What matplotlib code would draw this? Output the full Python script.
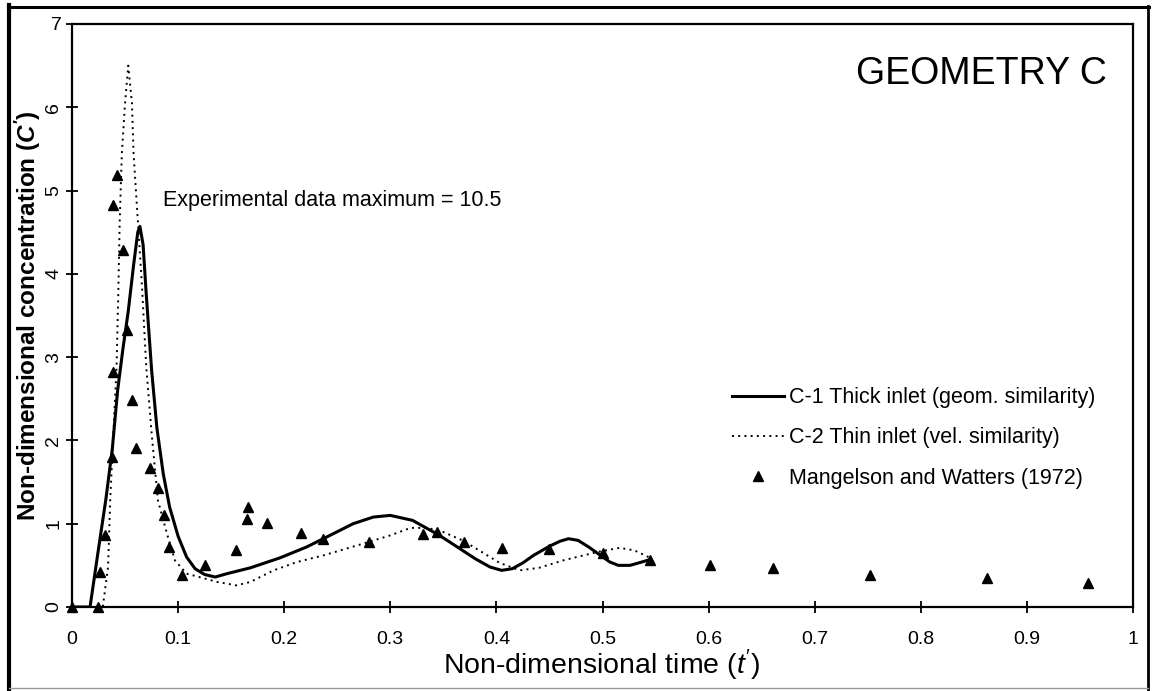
import matplotlib
matplotlib.use("Agg")
import matplotlib.pyplot as plt
from matplotlib.lines import Line2D

plt.rcParams['font.family'] = ['Liberation Sans', 'DejaVu Sans']
plt.rcParams['mathtext.fontset'] = 'custom'
plt.rcParams['mathtext.rm'] = 'Liberation Sans'
plt.rcParams['mathtext.it'] = 'Liberation Sans:italic'
plt.rcParams['mathtext.bf'] = 'Liberation Sans:bold:italic'

# C-1 thick inlet (geometric similarity)
c1_t = [0, 0.017, 0.025, 0.032, 0.038, 0.043, 0.048, 0.053, 0.058, 0.062, 0.064,
        0.067, 0.070, 0.075, 0.080, 0.086, 0.092, 0.100, 0.108, 0.116, 0.125,
        0.135, 0.146, 0.168, 0.196, 0.221, 0.240, 0.265, 0.284, 0.300, 0.321,
        0.345, 0.356, 0.368, 0.380, 0.394, 0.405, 0.415, 0.425, 0.435, 0.450,
        0.460, 0.468, 0.477, 0.487, 0.497, 0.507, 0.515, 0.526, 0.537, 0.545]
c1_c = [0, 0, 0.70, 1.30, 1.90, 2.60, 3.10, 3.55, 4.10, 4.50, 4.57,
        4.35, 3.75, 2.85, 2.15, 1.60, 1.20, 0.85, 0.60, 0.46, 0.39,
        0.36, 0.40, 0.47, 0.59, 0.72, 0.84, 1.00, 1.08, 1.10, 1.04,
        0.87, 0.78, 0.68, 0.58, 0.48, 0.44, 0.46, 0.53, 0.62, 0.73,
        0.79, 0.82, 0.80, 0.72, 0.63, 0.54, 0.50, 0.50, 0.54, 0.57]

# C-2 thin inlet (velocity similarity)
c2_t = [0, 0.029, 0.034, 0.036, 0.039, 0.042, 0.0435, 0.045, 0.047, 0.050, 0.053,
        0.0565, 0.058, 0.062, 0.066, 0.070, 0.075, 0.078, 0.081, 0.0895, 0.097,
        0.108, 0.120, 0.137, 0.155, 0.168, 0.190, 0.212, 0.237, 0.269, 0.300,
        0.319, 0.335, 0.350, 0.368, 0.385, 0.403, 0.422, 0.440, 0.463, 0.495,
        0.516, 0.530, 0.545]
c2_c = [0, 0, 0.48, 1.28, 2.09, 2.88, 3.69, 4.65, 5.45, 6.05, 6.50,
        6.05, 5.45, 4.65, 3.84, 2.88, 2.09, 1.68, 1.28, 0.88, 0.56,
        0.40, 0.36, 0.30, 0.26, 0.30, 0.44, 0.54, 0.62, 0.74, 0.86,
        0.95, 0.95, 0.90, 0.80, 0.67, 0.53, 0.44, 0.47, 0.56, 0.66,
        0.71, 0.68, 0.59]

# Mangelson and Watters (1972) measurements
mw_t = [0.0, 0.0245, 0.026, 0.031, 0.0377, 0.0386, 0.039, 0.042, 0.048, 0.052,
        0.0565, 0.060, 0.0735, 0.081, 0.087, 0.0915, 0.104, 0.125, 0.1546, 0.165,
        0.166, 0.184, 0.216, 0.237, 0.280, 0.331, 0.344, 0.369, 0.405, 0.450,
        0.500, 0.545, 0.601, 0.661, 0.752, 0.862, 0.958]
mw_c = [0, 0, 0.42, 0.86, 1.80, 2.82, 4.83, 5.19, 4.29, 3.33,
        2.49, 1.91, 1.67, 1.43, 1.10, 0.72, 0.38, 0.51, 0.68, 1.06,
        1.20, 1.01, 0.89, 0.82, 0.78, 0.88, 0.90, 0.78, 0.71, 0.70,
        0.65, 0.56, 0.50, 0.47, 0.38, 0.35, 0.29]

x_ticks = [0, 0.1, 0.2, 0.3, 0.4, 0.5, 0.6, 0.7, 0.8, 0.9, 1]
x_tick_labels = ['0', '0.1', '0.2', '0.3', '0.4', '0.5', '0.6', '0.7', '0.8', '0.9', '1']
y_ticks = [0, 1, 2, 3, 4, 5, 6, 7]

W, H = 1155, 691
fig = plt.figure(figsize=(W / 100, H / 100), dpi=100)
ax = fig.add_axes([72 / W, 1 - 607 / H, (1133 - 72) / W, (607 - 24) / H])

ax.plot(c1_t, c1_c, color='black', lw=2.2, label='C-1 Thick inlet (geom. similarity)')
ax.plot(c2_t, c2_c, color='black', lw=1.4, linestyle=(0, (1, 2.2)),
        label='C-2 Thin inlet (vel. similarity)')
ax.plot(mw_t, mw_c, linestyle='none', marker='^', color='black', markersize=7,
        label='Mangelson and Watters (1972)', clip_on=False)

ax.set_xlim(0, 1)
ax.set_ylim(0, 7)
ax.set_xticks(x_ticks)
ax.set_xticklabels(x_tick_labels)
ax.set_yticks(y_ticks)
for lab in ax.get_yticklabels():
    if lab.get_text() != '7':
        lab.set_rotation(90)
        lab.set_va('center')

ax.tick_params(axis='both', direction='inout', length=8, width=1.3, labelsize=14)
ax.tick_params(axis='x', pad=13)
ax.tick_params(axis='y', pad=3)
for s in ax.spines.values():
    s.set_linewidth(1.6)

ax.set_xlabel("Non-dimensional time ($t'$)", fontsize=20.5, va='center')
ax.xaxis.set_label_coords(0.499, -0.1)
ax.set_ylabel("Non-dimensional concentration ($\\mathbf{C'}$)", fontsize=17.5,
              fontweight='bold', va='center')
ax.yaxis.set_label_coords(-0.0415, 0.499)

ax.text(0.975, 0.915, 'GEOMETRY C', transform=ax.transAxes, fontsize=27,
        ha='right', va='center')
ax.text(0.086, 0.697, 'Experimental data maximum = 10.5', transform=ax.transAxes,
        fontsize=15.5, ha='left', va='center')

ax.legend(loc='center left', bbox_to_anchor=(0.622, 0.29), frameon=False,
          fontsize=15.5, handlelength=2.4, handletextpad=0.25, labelspacing=0.9,
          borderpad=0, borderaxespad=0, numpoints=1)

# scanned page frame
fig.add_artist(Line2D([9 / W, 9 / W], [0, 1 - 5 / H], color='black', lw=3.0))
fig.add_artist(Line2D([8 / W, 1149 / W], [1 - 7 / H, 1 - 7 / H], color='black', lw=2.2))
fig.add_artist(Line2D([1148 / W, 1148 / W], [0, 1 - 6 / H], color='black', lw=2.0))
fig.add_artist(Line2D([9 / W, 1148 / W], [1 - 688 / H, 1 - 688 / H], color='0.6', lw=1.0))

fig.savefig('out.png', dpi=100)
